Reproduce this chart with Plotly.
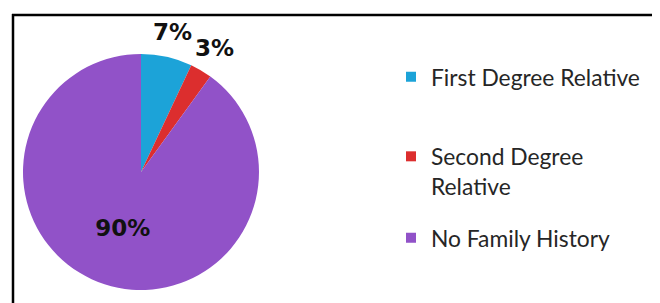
import math
import plotly.graph_objects as go

categories = ["First Degree Relative", "Second Degree Relative", "No Family History"]
legend_labels = ["First Degree Relative", "Second Degree<br>Relative", "No Family History"]
values = [7, 3, 90]
colors = ["#1CA3D8", "#DC2E2E", "#9152C8"]

W, H = 660, 303
OFF = 8  # page body margin of the browser


def px(x):
    return (x - OFF) / W


def py(y):
    return 1 - (y - OFF) / H


# pie geometry (screen pixels)
CX, CY, R = 141, 172, 118
dom = dict(x=[px(CX - R), px(CX + R)], y=[py(CY + R), py(CY - R)])
label_font = dict(family="DejaVu Sans", size=23, color="#111111", weight="bold")

fig = go.Figure()
fig.add_trace(go.Pie(
    labels=categories,
    values=values,
    sort=False,
    direction="clockwise",
    rotation=0,
    marker=dict(colors=colors, line=dict(width=0)),
    text=["", "", "90%"],
    texttemplate="%{text}",
    textposition=["none", "none", "inside"],
    insidetextorientation="horizontal",
    textfont=label_font,
    showlegend=False,
    hoverinfo="label+percent",
    domain=dom,
))

# outside labels for the two small slices, placed along each slice's mid-angle
total = sum(values)
annotations = []
cum = 0
for i, v in enumerate(values):
    mid = (cum + v / 2) / total * 2 * math.pi
    cum += v
    if i < 2:
        rl = R * 1.22
        annotations.append(dict(
            x=px(CX + rl * math.sin(mid)), y=py(CY - rl * math.cos(mid)),
            xref="paper", yref="paper", showarrow=False,
            text=f"{round(100 * v / total)}%", font=label_font,
            xanchor="center", yanchor="middle",
        ))

legend_names = ["legend", "legend2", "legend3"]
legend_y = [77, 135, 238]
legend_anchor = ["middle", "top", "middle"]
for lab, col, lname in zip(legend_labels, colors, legend_names):
    fig.add_trace(go.Scatter(
        x=[None], y=[None], mode="markers", name=lab,
        marker=dict(symbol="square", size=10, color=col),
        legend=lname, showlegend=True,
    ))

legend_font = dict(family="Lato", size=22.8, color="#262626")
layout_legends = {}
for lname, ly, anc in zip(legend_names, legend_y, legend_anchor):
    layout_legends[lname] = dict(
        x=px(391), xanchor="left", y=py(ly), yanchor=anc,
        font=legend_font, bgcolor="rgba(0,0,0,0)", borderwidth=0,
        itemwidth=30, valign="top",
    )

fig.update_layout(
    width=W, height=H,
    margin=dict(l=0, r=0, t=0, b=0),
    paper_bgcolor="white", plot_bgcolor="white",
    xaxis=dict(visible=False), yaxis=dict(visible=False),
    annotations=annotations,
    shapes=[
        dict(type="line", xref="paper", yref="paper", x0=px(12), x1=1,
             y0=py(15), y1=py(15), line=dict(color="black", width=2.5)),
        dict(type="line", xref="paper", yref="paper", x0=px(13), x1=px(13),
             y0=0, y1=py(14), line=dict(color="black", width=2.5)),
    ],
    **layout_legends,
)

fig.write_html("out.html")
